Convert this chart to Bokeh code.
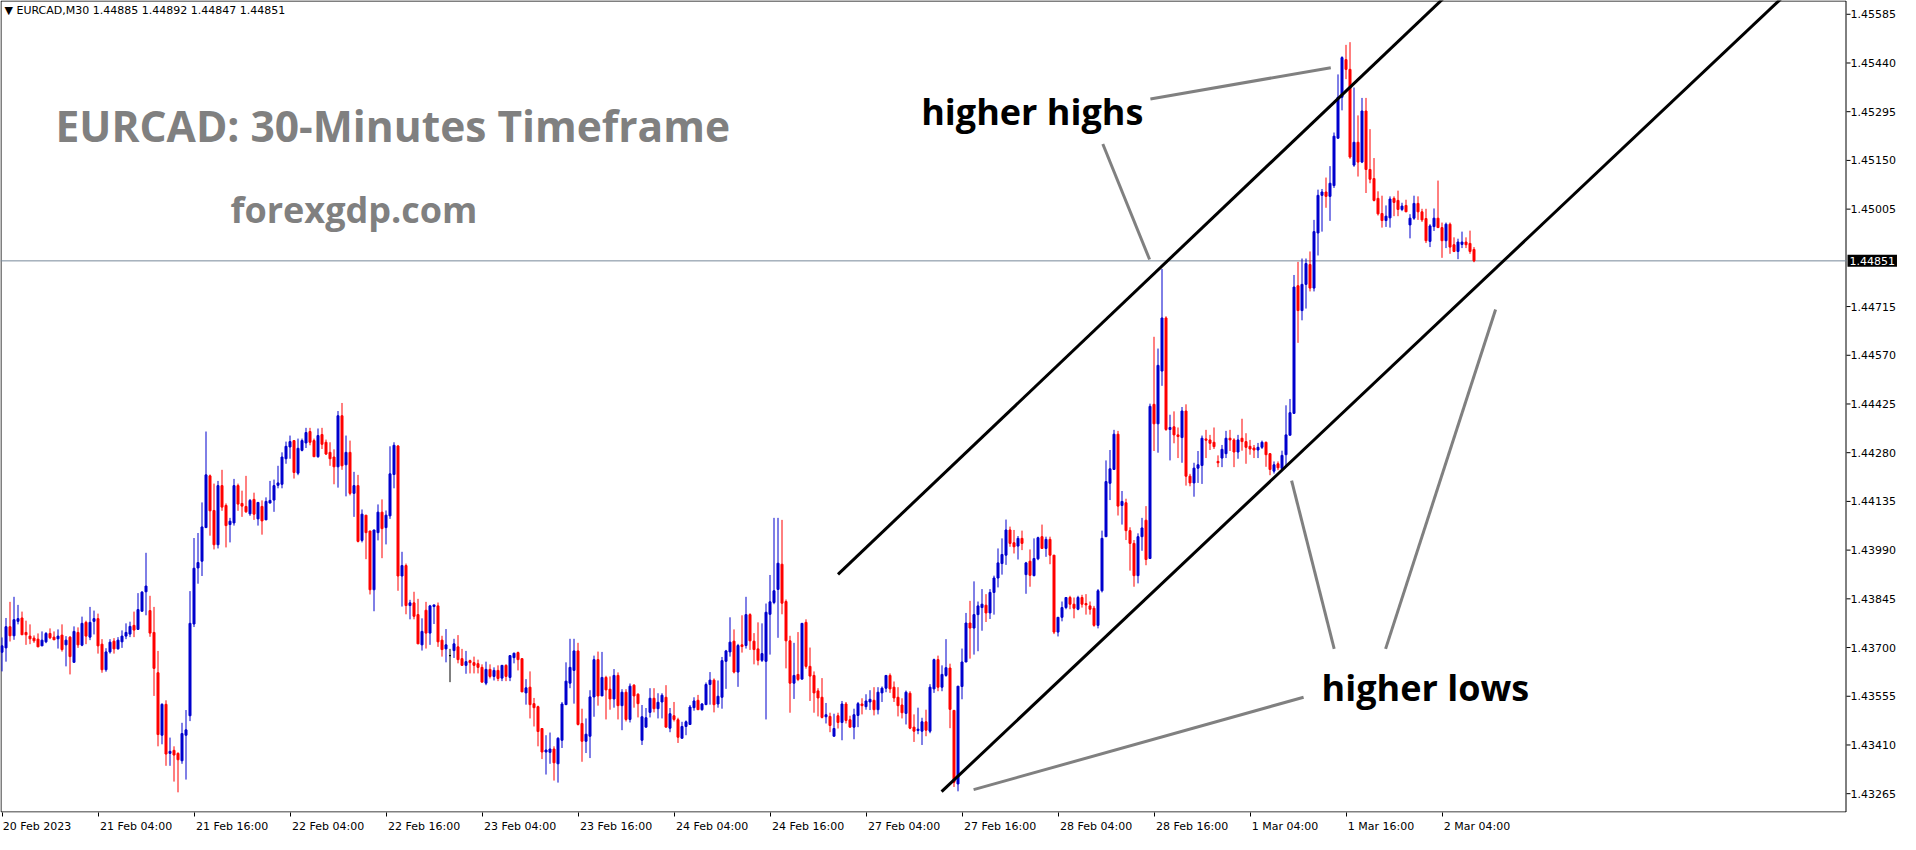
from bokeh.plotting import figure
from bokeh.models import ColumnDataSource, Range1d, FixedTicker, PrintfTickFormatter, Label
from bokeh.embed import file_html
from bokeh.resources import INLINE

# ---------------- data (EURCAD M30) ----------------
open_ = [
1.43686, 1.43699, 1.43762, 1.43735, 1.43778, 1.43788, 1.43745, 1.43734, 1.43728, 1.43725,
1.43705, 1.43717, 1.43742, 1.43731, 1.43726, 1.43737, 1.43708, 1.43731, 1.43656, 1.43745,
1.43707, 1.43775, 1.43731, 1.43778, 1.43786, 1.43710, 1.43634, 1.43687, 1.43719, 1.43696,
1.43717, 1.43734, 1.43740, 1.43766, 1.43754, 1.43808, 1.43866, 1.43810, 1.43745, 1.43625,
1.43439, 1.43531, 1.43385, 1.43394, 1.43385, 1.43363, 1.43439, 1.43497, 1.43770, 1.43937,
1.43957, 1.44057, 1.44211, 1.44108, 1.44006, 1.44182, 1.44123, 1.44066, 1.44071, 1.44182,
1.44129, 1.44120, 1.44098, 1.44141, 1.44083, 1.44120, 1.44080, 1.44130, 1.44139, 1.44183,
1.44186, 1.44262, 1.44297, 1.44316, 1.44219, 1.44287, 1.44309, 1.44343, 1.44316, 1.44268,
1.44334, 1.44311, 1.44281, 1.44267, 1.44238, 1.44390, 1.44244, 1.44281, 1.44159, 1.44182,
1.44019, 1.44094, 1.44047, 1.43872, 1.44042, 1.44103, 1.44057, 1.44092, 1.44215, 1.44300,
1.43913, 1.43944, 1.43825, 1.43833, 1.43798, 1.43708, 1.43811, 1.43743, 1.43822, 1.43824,
1.43722, 1.43696, 1.43676, 1.43691, 1.43702, 1.43667, 1.43647, 1.43661, 1.43655, 1.43652,
1.43641, 1.43594, 1.43635, 1.43614, 1.43632, 1.43609, 1.43647, 1.43611, 1.43670, 1.43685,
1.43667, 1.43565, 1.43582, 1.43533, 1.43524, 1.43459, 1.43389, 1.43388, 1.43398, 1.43354,
1.43424, 1.43530, 1.43594, 1.43632, 1.43690, 1.43474, 1.43421, 1.43436, 1.43553, 1.43664,
1.43556, 1.43611, 1.43576, 1.43547, 1.43617, 1.43527, 1.43567, 1.43486, 1.43588, 1.43561,
1.43424, 1.43463, 1.43507, 1.43549, 1.43518, 1.43538, 1.43552, 1.43460, 1.43497, 1.43485,
1.43430, 1.43465, 1.43471, 1.43521, 1.43543, 1.43515, 1.43530, 1.43590, 1.43603, 1.43532,
1.43552, 1.43659, 1.43687, 1.43719, 1.43627, 1.43708, 1.43706, 1.43798, 1.43719, 1.43696,
1.43662, 1.43659, 1.43799, 1.43834, 1.43873, 1.43948, 1.43837, 1.43720, 1.43594, 1.43620,
1.43606, 1.43775, 1.43644, 1.43617, 1.43571, 1.43552, 1.43494, 1.43495, 1.43436, 1.43497,
1.43477, 1.43532, 1.43485, 1.43463, 1.43498, 1.43532, 1.43524, 1.43538, 1.43543, 1.43515,
1.43565, 1.43579, 1.43617, 1.43582, 1.43552, 1.43529, 1.43504, 1.43564, 1.43463, 1.43453,
1.43451, 1.43479, 1.43451, 1.43577, 1.43664, 1.43582, 1.43617, 1.43639, 1.43513, 1.43294,
1.43584, 1.43657, 1.43773, 1.43758, 1.43798, 1.43819, 1.43826, 1.43803, 1.43864, 1.43907,
1.43950, 1.43975, 1.44050, 1.44012, 1.44002, 1.44025, 1.43917, 1.43957, 1.43914, 1.43964,
1.44030, 1.43995, 1.44022, 1.43975, 1.43746, 1.43790, 1.43819, 1.43849, 1.43829, 1.43814,
1.43849, 1.43831, 1.43824, 1.43817, 1.43766, 1.43869, 1.44030, 1.44189, 1.44230, 1.44335,
1.44123, 1.44131, 1.44048, 1.44010, 1.43914, 1.44030, 1.44079, 1.43965, 1.44424, 1.44366,
1.44523, 1.44681, 1.44349, 1.44357, 1.44333, 1.44325, 1.44404, 1.44210, 1.44190, 1.44234,
1.44242, 1.44321, 1.44318, 1.44311, 1.44254, 1.44264, 1.44277, 1.44323, 1.44318, 1.44282,
1.44323, 1.44313, 1.44299, 1.44294, 1.44288, 1.44296, 1.44311, 1.44277, 1.44225, 1.44247,
1.44233, 1.44274, 1.44332, 1.44397, 1.44777, 1.44703, 1.44781, 1.44840, 1.44770, 1.44934,
1.45046, 1.45056, 1.45043, 1.45075, 1.45216, 1.45338, 1.45450, 1.45421, 1.45136, 1.45204,
1.45145, 1.45297, 1.45123, 1.45096, 1.45037, 1.44992, 1.44971, 1.44979, 1.45037, 1.45031,
1.45004, 1.45016, 1.44958, 1.44978, 1.45022, 1.44997, 1.44977, 1.44909, 1.44953, 1.44978,
1.44950, 1.44911, 1.44960, 1.44899, 1.44879, 1.44900, 1.44907, 1.44903, 1.44885]

high = [
1.43730, 1.43788, 1.43836, 1.43851, 1.43827, 1.43807, 1.43780, 1.43769, 1.43736, 1.43742,
1.43748, 1.43746, 1.43757, 1.43748, 1.43754, 1.43769, 1.43734, 1.43734, 1.43763, 1.43760,
1.43792, 1.43780, 1.43821, 1.43810, 1.43801, 1.43725, 1.43698, 1.43725, 1.43728, 1.43731,
1.43751, 1.43772, 1.43777, 1.43807, 1.43862, 1.43868, 1.43982, 1.43854, 1.43821, 1.43690,
1.43534, 1.43543, 1.43432, 1.43406, 1.43388, 1.43476, 1.43514, 1.43868, 1.44026, 1.44041,
1.44132, 1.44343, 1.44215, 1.44188, 1.44196, 1.44229, 1.44129, 1.44086, 1.44202, 1.44188,
1.44167, 1.44211, 1.44142, 1.44161, 1.44132, 1.44138, 1.44147, 1.44196, 1.44200, 1.44241,
1.44281, 1.44313, 1.44331, 1.44316, 1.44322, 1.44322, 1.44354, 1.44354, 1.44322, 1.44352,
1.44354, 1.44319, 1.44311, 1.44290, 1.44404, 1.44428, 1.44331, 1.44316, 1.44223, 1.44214,
1.44111, 1.44094, 1.44047, 1.44050, 1.44126, 1.44141, 1.44108, 1.44299, 1.44311, 1.44303,
1.43985, 1.43950, 1.43842, 1.43866, 1.43845, 1.43787, 1.43836, 1.43827, 1.43827, 1.43834,
1.43735, 1.43755, 1.43696, 1.43726, 1.43737, 1.43696, 1.43690, 1.43664, 1.43673, 1.43664,
1.43650, 1.43658, 1.43650, 1.43641, 1.43647, 1.43647, 1.43650, 1.43676, 1.43685, 1.43688,
1.43667, 1.43606, 1.43629, 1.43550, 1.43527, 1.43459, 1.43439, 1.43447, 1.43406, 1.43433,
1.43538, 1.43656, 1.43726, 1.43726, 1.43714, 1.43518, 1.43489, 1.43573, 1.43676, 1.43688,
1.43687, 1.43616, 1.43614, 1.43636, 1.43626, 1.43576, 1.43576, 1.43593, 1.43591, 1.43564,
1.43529, 1.43520, 1.43579, 1.43579, 1.43564, 1.43564, 1.43588, 1.43520, 1.43538, 1.43491,
1.43479, 1.43483, 1.43529, 1.43552, 1.43559, 1.43535, 1.43596, 1.43627, 1.43608, 1.43602,
1.43672, 1.43693, 1.43790, 1.43754, 1.43711, 1.43796, 1.43851, 1.43802, 1.43743, 1.43775,
1.43772, 1.43831, 1.43916, 1.44086, 1.44086, 1.44080, 1.43843, 1.43735, 1.43714, 1.43746,
1.43772, 1.43784, 1.43700, 1.43629, 1.43579, 1.43609, 1.43535, 1.43506, 1.43503, 1.43506,
1.43541, 1.43538, 1.43497, 1.43518, 1.43538, 1.43549, 1.43561, 1.43573, 1.43582, 1.43582,
1.43584, 1.43617, 1.43623, 1.43599, 1.43582, 1.43549, 1.43572, 1.43570, 1.43501, 1.43521,
1.43491, 1.43515, 1.43591, 1.43667, 1.43676, 1.43647, 1.43725, 1.43652, 1.43513, 1.43585,
1.43697, 1.43803, 1.43839, 1.43897, 1.43837, 1.43874, 1.43859, 1.43874, 1.43914, 1.43995,
1.44025, 1.44081, 1.44060, 1.44050, 1.44032, 1.44048, 1.43955, 1.43992, 1.44025, 1.44030,
1.44066, 1.44030, 1.44030, 1.43975, 1.43790, 1.43837, 1.43849, 1.43854, 1.43849, 1.43854,
1.43857, 1.43859, 1.43837, 1.43824, 1.43874, 1.44048, 1.44257, 1.44288, 1.44348, 1.44345,
1.44166, 1.44143, 1.44058, 1.44020, 1.44040, 1.44086, 1.44121, 1.44426, 1.44625, 1.44590,
1.44827, 1.44686, 1.44393, 1.44403, 1.44355, 1.44416, 1.44424, 1.44217, 1.44250, 1.44285,
1.44331, 1.44348, 1.44333, 1.44355, 1.44272, 1.44303, 1.44345, 1.44348, 1.44323, 1.44333,
1.44381, 1.44338, 1.44318, 1.44303, 1.44309, 1.44316, 1.44313, 1.44279, 1.44254, 1.44254,
1.44286, 1.44421, 1.44440, 1.44809, 1.44848, 1.44858, 1.44858, 1.44879, 1.44973, 1.45063,
1.45065, 1.45099, 1.45133, 1.45233, 1.45406, 1.45460, 1.45494, 1.45502, 1.45367, 1.45284,
1.45336, 1.45336, 1.45243, 1.45157, 1.45058, 1.45045, 1.45016, 1.45043, 1.45043, 1.45060,
1.45024, 1.45033, 1.44990, 1.45045, 1.45043, 1.45006, 1.45006, 1.44960, 1.45007, 1.45090,
1.44965, 1.44965, 1.44965, 1.44921, 1.44917, 1.44938, 1.44921, 1.44941, 1.44892]

low = [
1.43629, 1.43658, 1.43718, 1.43723, 1.43769, 1.43738, 1.43708, 1.43710, 1.43714, 1.43702,
1.43705, 1.43713, 1.43725, 1.43723, 1.43697, 1.43688, 1.43644, 1.43620, 1.43656, 1.43699,
1.43704, 1.43710, 1.43722, 1.43739, 1.43682, 1.43625, 1.43628, 1.43682, 1.43682, 1.43694,
1.43699, 1.43725, 1.43731, 1.43731, 1.43754, 1.43808, 1.43796, 1.43732, 1.43556, 1.43406,
1.43412, 1.43348, 1.43348, 1.43301, 1.43269, 1.43354, 1.43307, 1.43481, 1.43761, 1.43890,
1.43913, 1.44057, 1.44033, 1.43992, 1.43995, 1.44107, 1.43998, 1.44013, 1.44063, 1.44107,
1.44089, 1.44101, 1.44092, 1.44080, 1.44063, 1.44036, 1.44080, 1.44130, 1.44104, 1.44174,
1.44174, 1.44247, 1.44262, 1.44203, 1.44213, 1.44284, 1.44294, 1.44302, 1.44268, 1.44265,
1.44291, 1.44273, 1.44241, 1.44186, 1.44176, 1.44229, 1.44150, 1.44153, 1.44089, 1.44013,
1.44013, 1.43963, 1.43858, 1.43808, 1.44019, 1.43966, 1.44007, 1.44083, 1.44174, 1.43869,
1.43822, 1.43799, 1.43784, 1.43784, 1.43711, 1.43691, 1.43697, 1.43708, 1.43770, 1.43702,
1.43673, 1.43656, 1.43597, 1.43669, 1.43653, 1.43647, 1.43622, 1.43623, 1.43623, 1.43623,
1.43597, 1.43588, 1.43608, 1.43602, 1.43600, 1.43600, 1.43600, 1.43600, 1.43653, 1.43632,
1.43568, 1.43530, 1.43489, 1.43465, 1.43406, 1.43368, 1.43322, 1.43354, 1.43304, 1.43298,
1.43401, 1.43530, 1.43579, 1.43533, 1.43468, 1.43360, 1.43386, 1.43371, 1.43494, 1.43527,
1.43556, 1.43486, 1.43515, 1.43521, 1.43486, 1.43454, 1.43480, 1.43477, 1.43521, 1.43492,
1.43410, 1.43463, 1.43492, 1.43507, 1.43489, 1.43489, 1.43463, 1.43448, 1.43480, 1.43416,
1.43430, 1.43439, 1.43471, 1.43512, 1.43515, 1.43512, 1.43530, 1.43530, 1.43507, 1.43521,
1.43518, 1.43577, 1.43673, 1.43623, 1.43583, 1.43685, 1.43697, 1.43693, 1.43650, 1.43647,
1.43657, 1.43486, 1.43679, 1.43829, 1.43729, 1.43799, 1.43638, 1.43506, 1.43547, 1.43600,
1.43606, 1.43637, 1.43541, 1.43506, 1.43495, 1.43489, 1.43474, 1.43448, 1.43436, 1.43459,
1.43424, 1.43474, 1.43463, 1.43427, 1.43463, 1.43501, 1.43515, 1.43514, 1.43498, 1.43501,
1.43538, 1.43567, 1.43565, 1.43538, 1.43495, 1.43489, 1.43471, 1.43457, 1.43419, 1.43442,
1.43410, 1.43436, 1.43445, 1.43565, 1.43570, 1.43570, 1.43613, 1.43460, 1.43285, 1.43272,
1.43546, 1.43657, 1.43667, 1.43679, 1.43689, 1.43750, 1.43776, 1.43785, 1.43798, 1.43879,
1.43917, 1.43946, 1.44000, 1.43980, 1.43962, 1.43990, 1.43860, 1.43881, 1.43912, 1.43960,
1.43995, 1.43970, 1.43948, 1.43740, 1.43733, 1.43778, 1.43814, 1.43814, 1.43787, 1.43811,
1.43819, 1.43798, 1.43798, 1.43762, 1.43757, 1.43864, 1.44030, 1.44139, 1.44230, 1.44093,
1.44066, 1.44020, 1.43929, 1.43881, 1.43891, 1.43988, 1.43945, 1.43965, 1.44285, 1.44280,
1.44479, 1.44345, 1.44257, 1.44308, 1.44264, 1.44250, 1.44182, 1.44180, 1.44149, 1.44190,
1.44187, 1.44264, 1.44288, 1.44291, 1.44237, 1.44237, 1.44264, 1.44285, 1.44237, 1.44262,
1.44286, 1.44247, 1.44274, 1.44264, 1.44264, 1.44291, 1.44238, 1.44213, 1.44218, 1.44228,
1.44225, 1.44238, 1.44332, 1.44397, 1.44607, 1.44674, 1.44709, 1.44760, 1.44760, 1.44867,
1.44938, 1.45009, 1.44970, 1.45068, 1.45216, 1.45299, 1.45392, 1.45155, 1.45131, 1.45102,
1.45142, 1.45053, 1.45082, 1.45028, 1.44986, 1.44950, 1.44952, 1.44950, 1.44984, 1.44984,
1.44999, 1.44997, 1.44918, 1.44973, 1.44973, 1.44967, 1.44904, 1.44892, 1.44940, 1.44950,
1.44860, 1.44889, 1.44872, 1.44877, 1.44856, 1.44889, 1.44889, 1.44872, 1.44847]

close = [
1.43705, 1.43762, 1.43735, 1.43783, 1.43786, 1.43738, 1.43738, 1.43726, 1.43720, 1.43702,
1.43722, 1.43742, 1.43729, 1.43723, 1.43734, 1.43694, 1.43722, 1.43673, 1.43748, 1.43708,
1.43772, 1.43734, 1.43775, 1.43786, 1.43705, 1.43634, 1.43687, 1.43716, 1.43696, 1.43722,
1.43734, 1.43745, 1.43763, 1.43752, 1.43813, 1.43865, 1.43883, 1.43743, 1.43638, 1.43441,
1.43531, 1.43383, 1.43391, 1.43380, 1.43366, 1.43444, 1.43455, 1.43772, 1.43936, 1.43953,
1.44059, 1.44214, 1.44107, 1.44006, 1.44182, 1.44118, 1.44063, 1.44076, 1.44182, 1.44127,
1.44121, 1.44104, 1.44138, 1.44097, 1.44132, 1.44077, 1.44135, 1.44138, 1.44182, 1.44190,
1.44267, 1.44299, 1.44313, 1.44221, 1.44293, 1.44316, 1.44340, 1.44311, 1.44268, 1.44331,
1.44305, 1.44276, 1.44262, 1.44238, 1.44390, 1.44241, 1.44281, 1.44159, 1.44182, 1.44016,
1.44097, 1.44042, 1.43872, 1.44050, 1.44103, 1.44054, 1.44094, 1.44217, 1.44302, 1.43913,
1.43944, 1.43825, 1.43833, 1.43793, 1.43711, 1.43748, 1.43743, 1.43824, 1.43827, 1.43717,
1.43694, 1.43708, 1.43676, 1.43711, 1.43664, 1.43647, 1.43658, 1.43655, 1.43647, 1.43641,
1.43597, 1.43635, 1.43614, 1.43632, 1.43608, 1.43647, 1.43614, 1.43676, 1.43683, 1.43664,
1.43568, 1.43580, 1.43530, 1.43521, 1.43450, 1.43389, 1.43395, 1.43398, 1.43357, 1.43430,
1.43532, 1.43600, 1.43641, 1.43690, 1.43471, 1.43421, 1.43442, 1.43553, 1.43664, 1.43556,
1.43611, 1.43574, 1.43547, 1.43617, 1.43527, 1.43567, 1.43486, 1.43585, 1.43556, 1.43533,
1.43494, 1.43491, 1.43549, 1.43518, 1.43537, 1.43558, 1.43463, 1.43503, 1.43486, 1.43433,
1.43465, 1.43479, 1.43523, 1.43541, 1.43515, 1.43532, 1.43590, 1.43603, 1.43530, 1.43555,
1.43661, 1.43690, 1.43716, 1.43627, 1.43706, 1.43703, 1.43798, 1.43720, 1.43694, 1.43662,
1.43682, 1.43805, 1.43836, 1.43869, 1.43951, 1.43832, 1.43720, 1.43594, 1.43617, 1.43605,
1.43772, 1.43644, 1.43615, 1.43565, 1.43550, 1.43492, 1.43500, 1.43468, 1.43459, 1.43477,
1.43532, 1.43483, 1.43463, 1.43500, 1.43533, 1.43527, 1.43541, 1.43546, 1.43515, 1.43567,
1.43579, 1.43617, 1.43577, 1.43550, 1.43527, 1.43506, 1.43567, 1.43460, 1.43451, 1.43457,
1.43479, 1.43454, 1.43582, 1.43664, 1.43582, 1.43620, 1.43640, 1.43516, 1.43299, 1.43585,
1.43657, 1.43773, 1.43758, 1.43798, 1.43824, 1.43829, 1.43803, 1.43864, 1.43907, 1.43952,
1.43977, 1.44050, 1.44010, 1.44000, 1.44025, 1.44010, 1.43952, 1.43915, 1.43965, 1.44027,
1.43995, 1.44022, 1.43975, 1.43746, 1.43790, 1.43819, 1.43849, 1.43829, 1.43817, 1.43849,
1.43829, 1.43827, 1.43814, 1.43766, 1.43869, 1.44025, 1.44194, 1.44232, 1.44335, 1.44121,
1.44135, 1.44048, 1.44010, 1.43914, 1.44030, 1.44056, 1.43962, 1.44418, 1.44366, 1.44540,
1.44681, 1.44349, 1.44355, 1.44333, 1.44328, 1.44404, 1.44210, 1.44190, 1.44234, 1.44244,
1.44323, 1.44317, 1.44308, 1.44298, 1.44250, 1.44290, 1.44323, 1.44318, 1.44282, 1.44318,
1.44313, 1.44296, 1.44291, 1.44288, 1.44296, 1.44311, 1.44274, 1.44230, 1.44244, 1.44235,
1.44272, 1.44333, 1.44399, 1.44773, 1.44703, 1.44781, 1.44843, 1.44770, 1.44938, 1.45046,
1.45056, 1.45043, 1.45082, 1.45222, 1.45338, 1.45456, 1.45421, 1.45160, 1.45204, 1.45145,
1.45297, 1.45123, 1.45094, 1.45031, 1.44991, 1.44971, 1.44984, 1.45035, 1.45025, 1.45004,
1.45014, 1.44997, 1.44978, 1.45022, 1.44997, 1.44973, 1.44911, 1.44955, 1.44978, 1.44950,
1.44911, 1.44960, 1.44892, 1.44879, 1.44907, 1.44907, 1.44899, 1.44879, 1.44851]

tick_index = [0, 24, 48, 72, 96, 120, 144, 168, 192, 216, 240, 264, 288, 312, 336, 360]
tick_labels = ["20 Feb 2023", "21 Feb 04:00", "21 Feb 16:00", "22 Feb 04:00", "22 Feb 16:00",
               "23 Feb 04:00", "23 Feb 16:00", "24 Feb 04:00", "24 Feb 16:00", "27 Feb 04:00",
               "27 Feb 16:00", "28 Feb 04:00", "28 Feb 16:00", "1 Mar 04:00", "1 Mar 16:00",
               "2 Mar 04:00"]
price_ticks = [1.43265, 1.43410, 1.43555, 1.43700, 1.43845, 1.43990, 1.44135, 1.44280,
               1.44425, 1.44570, 1.44715, 1.45005, 1.45150, 1.45295, 1.45440, 1.45585]

# drawn channel / pointer lines (candle index, price)
upper_channel_x = [209.0, 362.0]
upper_channel_y = [1.43918, 1.45651]
lower_channel_x = [234.9, 445.0]
lower_channel_y = [1.43271, 1.45634]
pointer_xs = [[287.1, 332.2], [275.2, 286.9], [322.4, 333.05], [345.9, 373.4], [242.9, 325.4]]
pointer_ys = [[1.45333, 1.45426], [1.45199, 1.44855], [1.44197, 1.43696], [1.43696, 1.44706], [1.43277, 1.43552]]

# ---------------- layout constants ----------------
CW = 1846            # chart (candle area) width in px
FW, FH = 1898, 812   # frame = chart + price-label strip
PX = 4.0             # px per candle
Y0, Y1 = 1.43209, 1.45626
x0 = -0.375
xr = x0 + CW / PX
dy = (Y1 - Y0) / FH  # price per px

n = min(len(open_), len(high), len(low), len(close))
xs = list(range(n))
UP, DN, DJ = "#0000cd", "#ff0000", "#000000"
cols = [UP if c > o else (DN if c < o else DJ) for o, c in zip(open_[:n], close[:n])]
src = ColumnDataSource(dict(
    x=xs, o=open_[:n], h=high[:n], l=low[:n], c=close[:n],
    top=[max(o, c) for o, c in zip(open_[:n], close[:n])],
    bot=[min(o, c) for o, c in zip(open_[:n], close[:n])],
    col=cols))

p = figure(frame_width=FW, frame_height=FH, output_backend="svg", toolbar_location=None,
           x_range=Range1d(x0, x0 + FW / PX), y_range=Range1d(Y0, Y1),
           y_axis_location="right", min_border_left=0, min_border_top=0,
           min_border_bottom=0, min_border_right=0)
p.background_fill_color = "white"
p.border_fill_color = "white"
p.outline_line_color = None
p.xgrid.visible = False
p.ygrid.visible = False

# y axis: labels pulled back next to the chart edge
p.yaxis.ticker = FixedTicker(ticks=price_ticks)
p.yaxis.formatter = PrintfTickFormatter(format="%.5f")
p.yaxis.major_tick_in = 0
p.yaxis.major_tick_out = 0
p.yaxis.major_tick_line_color = None
p.yaxis.minor_tick_line_color = None
p.yaxis.axis_line_color = None
p.yaxis.major_label_text_font = "DejaVu Sans"
p.yaxis.major_label_text_font_size = "11px"
p.yaxis.major_label_text_color = "black"
p.yaxis.major_label_standoff = -int(FW - CW - 4)

# x axis: tick marks at the bar, label to the right of it
label_centers = [round(t + (len(s) * 6.1 / 2 + 1.5) / PX, 3) for t, s in zip(tick_index, tick_labels)]
p.xaxis.ticker = FixedTicker(ticks=label_centers, minor_ticks=tick_index)
p.xaxis.major_label_overrides = {c: s for c, s in zip(label_centers, tick_labels)}
p.xaxis.major_tick_line_color = None
p.xaxis.major_tick_in = 0
p.xaxis.major_tick_out = 0
p.xaxis.minor_tick_in = 0
p.xaxis.minor_tick_out = 4
p.xaxis.minor_tick_line_color = "black"
p.xaxis.axis_line_color = None
p.xaxis.major_label_text_font = "DejaVu Sans"
p.xaxis.major_label_text_font_size = "11px"
p.xaxis.major_label_text_color = "black"
p.xaxis.major_label_standoff = 3

# chart border and y tick marks
bx = [x0 + 0.5 / PX, xr - 0.5 / PX, xr - 0.5 / PX, x0 + 0.5 / PX, x0 + 0.5 / PX]
by = [Y0 + 0.5 * dy, Y0 + 0.5 * dy, Y1 - 0.5 * dy, Y1 - 0.5 * dy, Y0 + 0.5 * dy]
p.line(bx, by, line_color="black", line_width=1)
p.segment(x0=[xr] * len(price_ticks), y0=price_ticks, x1=[xr + 1.0] * len(price_ticks),
          y1=price_ticks, line_color="black", line_width=1)

# current price line
last = close[n - 1]
p.line([x0, xr], [last, last], line_color="#778899", line_width=1)

# candles
p.segment(x0="x", y0="l", x1="x", y1="h", source=src, line_color="col", line_width=1)
p.vbar(x="x", width=0.5, top="top", bottom="bot", source=src,
       fill_color="col", line_color="col", line_width=1)

# channel lines and pointers
p.line(upper_channel_x, upper_channel_y, line_color="black", line_width=3)
p.line(lower_channel_x, lower_channel_y, line_color="black", line_width=3)
p.multi_line(pointer_xs, pointer_ys, line_color="#808080", line_width=3)

# texts
p.add_layout(Label(x=4, y=FH - 3, x_units="screen", y_units="screen",
                   text="\u25bc EURCAD,M30  %.5f %.5f %.5f %.5f" % (open_[n-1], high[n-1], low[n-1], close[n-1]),
                   text_font="DejaVu Sans", text_font_size="11px", text_color="black",
                   text_align="left", text_baseline="top"))
p.add_layout(Label(x=55, y=FH - 125, x_units="screen", y_units="screen",
                   text="EURCAD: 30-Minutes Timeframe", text_font="Open Sans",
                   text_font_style="bold", text_font_size="42.5px", text_color="#808080",
                   text_align="left", text_baseline="middle"))
p.add_layout(Label(x=230, y=FH - 209, x_units="screen", y_units="screen",
                   text="forexgdp.com", text_font="Open Sans",
                   text_font_style="bold", text_font_size="36px", text_color="#808080",
                   text_align="left", text_baseline="middle"))
p.add_layout(Label(x=229.8, y=1.45296, text="higher highs", text_font="Open Sans",
                   text_font_style="bold", text_font_size="36px", text_color="black",
                   text_align="left", text_baseline="middle"))
p.add_layout(Label(x=329.9, y=1.43581, text="higher lows", text_font="Open Sans",
                   text_font_style="bold", text_font_size="36px", text_color="black",
                   text_align="left", text_baseline="middle"))

# price tag beside the chart
p.add_layout(Label(x=xr, y=last, x_offset=1, text="%.5f" % last, text_font="DejaVu Sans",
                   text_font_size="11px", text_color="white", background_fill_color="black",
                   text_align="left", text_baseline="middle", padding=2))

open("out.html", "w").write(file_html(p, INLINE))
